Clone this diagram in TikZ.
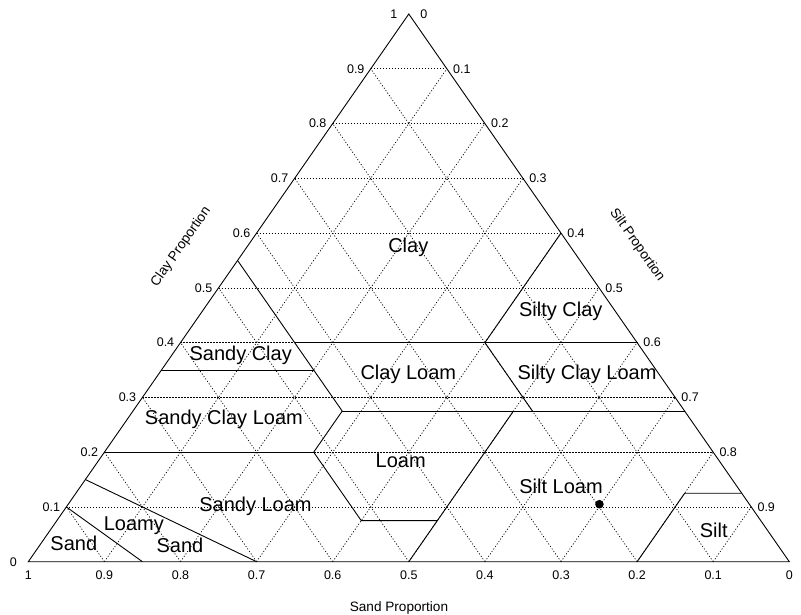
\documentclass[tikz,border=0pt]{standalone}
\usepackage{fontspec}
\setmainfont{Liberation Sans}
\newcommand\tc[3]{%
  \pgfmathsetmacro\tcx{28.3*(#2)+789.3*(1-(#2)-(#3))+408.8*(#3)}%
  \pgfmathsetmacro\tcy{561.7-547.7*(#3)}%
  \coordinate (#1) at (\tcx,\tcy);}
\begin{document}
\begin{tikzpicture}[x=1pt,y=-1pt,
  edge/.style={black,line width=0.9pt,line join=miter},
  bound/.style={black,line width=0.9pt},
  gridln/.style={black,line width=0.7pt,dash pattern=on 1.1pt off 1.9pt},
  region/.style={font=\fontsize{20}{24}\selectfont,anchor=base,inner sep=0pt},
  ticklab/.style={font=\fontsize{12.5}{14}\selectfont,inner sep=0pt},
  axtitle/.style={font=\fontsize{13.6}{16}\selectfont,inner sep=0pt}]
\useasboundingbox (0,0) rectangle (801,614);
\tc{BL}{1}{0}\tc{BR}{0}{0}\tc{A}{0}{1}
% grid
\foreach \k in {1,...,9}{
  \pgfmathsetmacro\f{\k/10}
  \tc{ga}{1-\f}{\f}\tc{gb}{0}{\f}\draw[gridln] (ga)--(gb);
  \tc{gc}{\f}{0}\tc{gd}{\f}{1-\f}\draw[gridln] (gc)--(gd);
  \tc{ge}{1-\f}{0}\tc{gf}{0}{1-\f}\draw[gridln] (ge)--(gf);
}
% triangle
\draw[edge] (BL)--(BR)--(A)--cycle;
% texture boundaries (sand, clay)
\tc{b1}{0.85}{0}\tc{b2}{0.9}{0.1}\draw[bound] (b1)--(b2);
\tc{b3}{0.7}{0}\tc{b4}{0.85}{0.15}\draw[bound] (b3)--(b4);
\tc{b5}{0.8}{0.2}\tc{b6}{0.525}{0.2}\draw[bound] (b5)--(b6);
\tc{b7}{0.525}{0.075}\tc{b8}{0.425}{0.075}\draw[bound] (b6)--(b7)--(b8);
\tc{b9}{0.5}{0}\tc{b10}{0.225}{0.275}\draw[bound] (b9)--(b10);
\tc{b11}{0.45}{0.275}\draw[bound] (b6)--(b11);
\tc{b12}{0.45}{0.55}\draw[bound] (b11)--(b12);
\tc{b13}{0.65}{0.35}\tc{b14}{0.45}{0.35}\draw[bound] (b13)--(b14);
\tc{b15}{0}{0.275}\draw[bound] (b11)--(b15);
\tc{b16}{0.45}{0.4}\tc{b17}{0}{0.4}\draw[bound] (b16)--(b17);
\tc{b18}{0.2}{0.4}\tc{b19}{0.2}{0.275}\draw[bound] (b18)--(b19);
\tc{b20}{0}{0.6}\draw[bound] (b18)--(b20);
\tc{b21}{0.2}{0}\tc{b22}{0.075}{0.125}\tc{b23}{0}{0.125}\draw[bound] (b21)--(b22)--(b23);
% data point
\tc{pt}{0.197}{0.105}
\fill[black] (pt) circle[radius=4.3pt];
% tick labels
\foreach \k/\lab in {0/0,1/0.1,2/0.2,3/0.3,4/0.4,5/0.5,6/0.6,7/0.7,8/0.8,9/0.9,10/1}{
  \tc{tl}{1-\k/10}{\k/10}
  \node[ticklab] (lt\k) at ([xshift=-15pt]tl) {\lab};
}
\foreach \k/\lab in {0/0,1/0.1,2/0.2,3/0.3,4/0.4,5/0.5,6/0.6,7/0.7,8/0.8,9/0.9}{
  \tc{tr}{0}{1-\k/10}
  \node[ticklab] (rt\k) at ([xshift=15pt]tr) {\lab};
}
\foreach \k/\lab in {0/0,1/0.1,2/0.2,3/0.3,4/0.4,5/0.5,6/0.6,7/0.7,8/0.8,9/0.9,10/1}{
  \tc{tb}{\k/10}{0}
  \node[ticklab] (bt\k) at ([yshift=-13.3pt]tb) {\lab};
}
% axis titles
\node[axtitle,anchor=base] (sandt) at (399,611.7) {Sand Proportion};
\node[axtitle,rotate=55] (clayt) at (181,247) {Clay Proportion};
\node[axtitle,rotate=-55] (siltt) at (637,245) {Silt Proportion};
% region names
\node[region] (rClay) at (408.3,252.3) {Clay};
\node[region] (rSiC) at (560.8,316) {Silty Clay};
\node[region] (rSC) at (240.7,360) {Sandy Clay};
\node[region] (rCL) at (408.3,379.3) {Clay Loam};
\node[region] (rSiCL) at (587,379) {Silty Clay Loam};
\node[region] (rSCL) at (223.9,424.3) {Sandy Clay Loam};
\node[region] (rL) at (400.7,467.7) {Loam};
\node[region] (rSiL) at (561,493) {Silt Loam};
\node[region] (rSL) at (255.5,511.7) {Sandy Loam};
\node[region] (rLS1) at (133.8,530.7) {Loamy};
\node[region] (rLS2) at (180,552.7) {Sand};
\node[region] (rS) at (73.8,550) {Sand};
\node[region] (rSi) at (713.7,537.7) {Silt};
\end{tikzpicture}
\end{document}
